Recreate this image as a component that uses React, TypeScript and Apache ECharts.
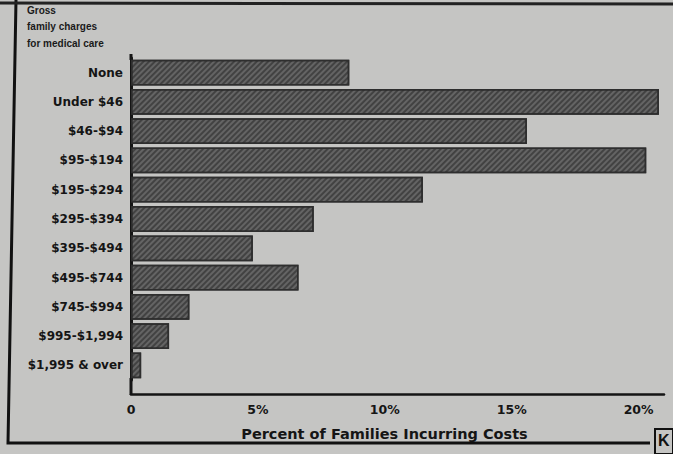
import React, { useEffect, useRef } from "react";
import * as echarts from "echarts";

const categories = [
  "None",
  "Under $46",
  "$46-$94",
  "$95-$194",
  "$195-$294",
  "$295-$394",
  "$395-$494",
  "$495-$744",
  "$745-$994",
  "$995-$1,994",
  "$1,995 & over",
];
const percentFamilies = [8.6, 20.8, 15.6, 20.3, 11.5, 7.2, 4.8, 6.6, 2.3, 1.5, 0.4];
const xTickValues = [0, 5, 10, 15, 20];
const titleLines = ["Gross", "family charges", "for medical care"];
const axisTitle = "Percent of Families Incurring Costs";

export default function App() {
  const ref = useRef<HTMLDivElement>(null);
  useEffect(() => {
    if (!ref.current) return;
    const chart = echarts.init(ref.current, undefined, { renderer: "svg" });
    const font = "'Liberation Sans', Arial, sans-serif";
    const wide = "'DejaVu Sans', sans-serif";
    chart.setOption({
      animation: false,
      backgroundColor: "#c5c5c3",
      textStyle: { fontFamily: font },
      title: {
        text: titleLines.join("\n"),
        left: 22,
        top: -3,
        textStyle: { fontSize: 10, fontWeight: "bold", color: "#1a1a1a", lineHeight: 16.5, fontFamily: font },
      },
      grid: { left: 131, right: 9, top: 58, bottom: 74, containLabel: false },
      xAxis: {
        type: "value",
        min: 0,
        max: 21,
        interval: 5,
        offset: 14,
        splitLine: { show: false },
        axisTick: { show: false },
        axisLine: { show: true, lineStyle: { color: "#151515", width: 2.5 } },
        axisLabel: {
          margin: 9,
          fontSize: 12.5,
          fontWeight: "bold",
          color: "#151515",
          fontFamily: wide,
          formatter: (v: number) => (xTickValues.includes(v) ? (v === 0 ? "0" : v + "%") : ""),
        },
        name: axisTitle,
        nameLocation: "middle",
        nameGap: 32,
        nameTextStyle: { fontSize: 14.5, fontWeight: "bold", color: "#151515", fontFamily: wide, padding: [0, 26, 0, 0] },
      },
      yAxis: {
        type: "category",
        data: categories,
        inverse: true,
        axisTick: { show: false },
        axisLine: { show: true, lineStyle: { color: "#151515", width: 3 } },
        axisLabel: { margin: 8, fontSize: 12, fontWeight: "bold", color: "#151515", fontFamily: wide },
      },
      series: [
        {
          type: "bar",
          data: percentFamilies,
          barCategoryGap: "12%",
          itemStyle: {
            color: "#646464",
            borderColor: "#2e2e2e",
            borderWidth: 1.5,
            decal: {
              symbol: "rect",
              symbolSize: 1,
              dashArrayX: [1, 0],
              dashArrayY: [1.5, 2],
              rotation: -Math.PI / 4,
              color: "rgba(25,25,25,0.45)",
            },
          },
        },
      ],
      graphic: [
        { type: "line", shape: { x1: 131, y1: 378, x2: 131, y2: 395 }, style: { stroke: "#151515", lineWidth: 3 } },
        { type: "line", shape: { x1: 131, y1: 54, x2: 131, y2: 60 }, style: { stroke: "#151515", lineWidth: 3 } },
        { type: "polyline", shape: { points: [[16, 0], [8, 443], [650, 443]] }, style: { stroke: "#111", lineWidth: 3, fill: null } },
        { type: "line", shape: { x1: 0, y1: 3, x2: 673, y2: 4 }, style: { stroke: "#222", lineWidth: 3 } },
        { type: "rect", shape: { x: 655, y: 429, width: 18, height: 25 }, style: { fill: "#c5c5c3", stroke: "#111", lineWidth: 2 } },
        { type: "text", x: 658, y: 432, style: { text: "K", fontSize: 16, fontWeight: "bold", fill: "#111", fontFamily: font } },
      ],
    });
    return () => chart.dispose();
  }, []);
  return <div ref={ref} style={{ position: "fixed", left: 0, top: 0, width: 673, height: 454 }} />;
}
